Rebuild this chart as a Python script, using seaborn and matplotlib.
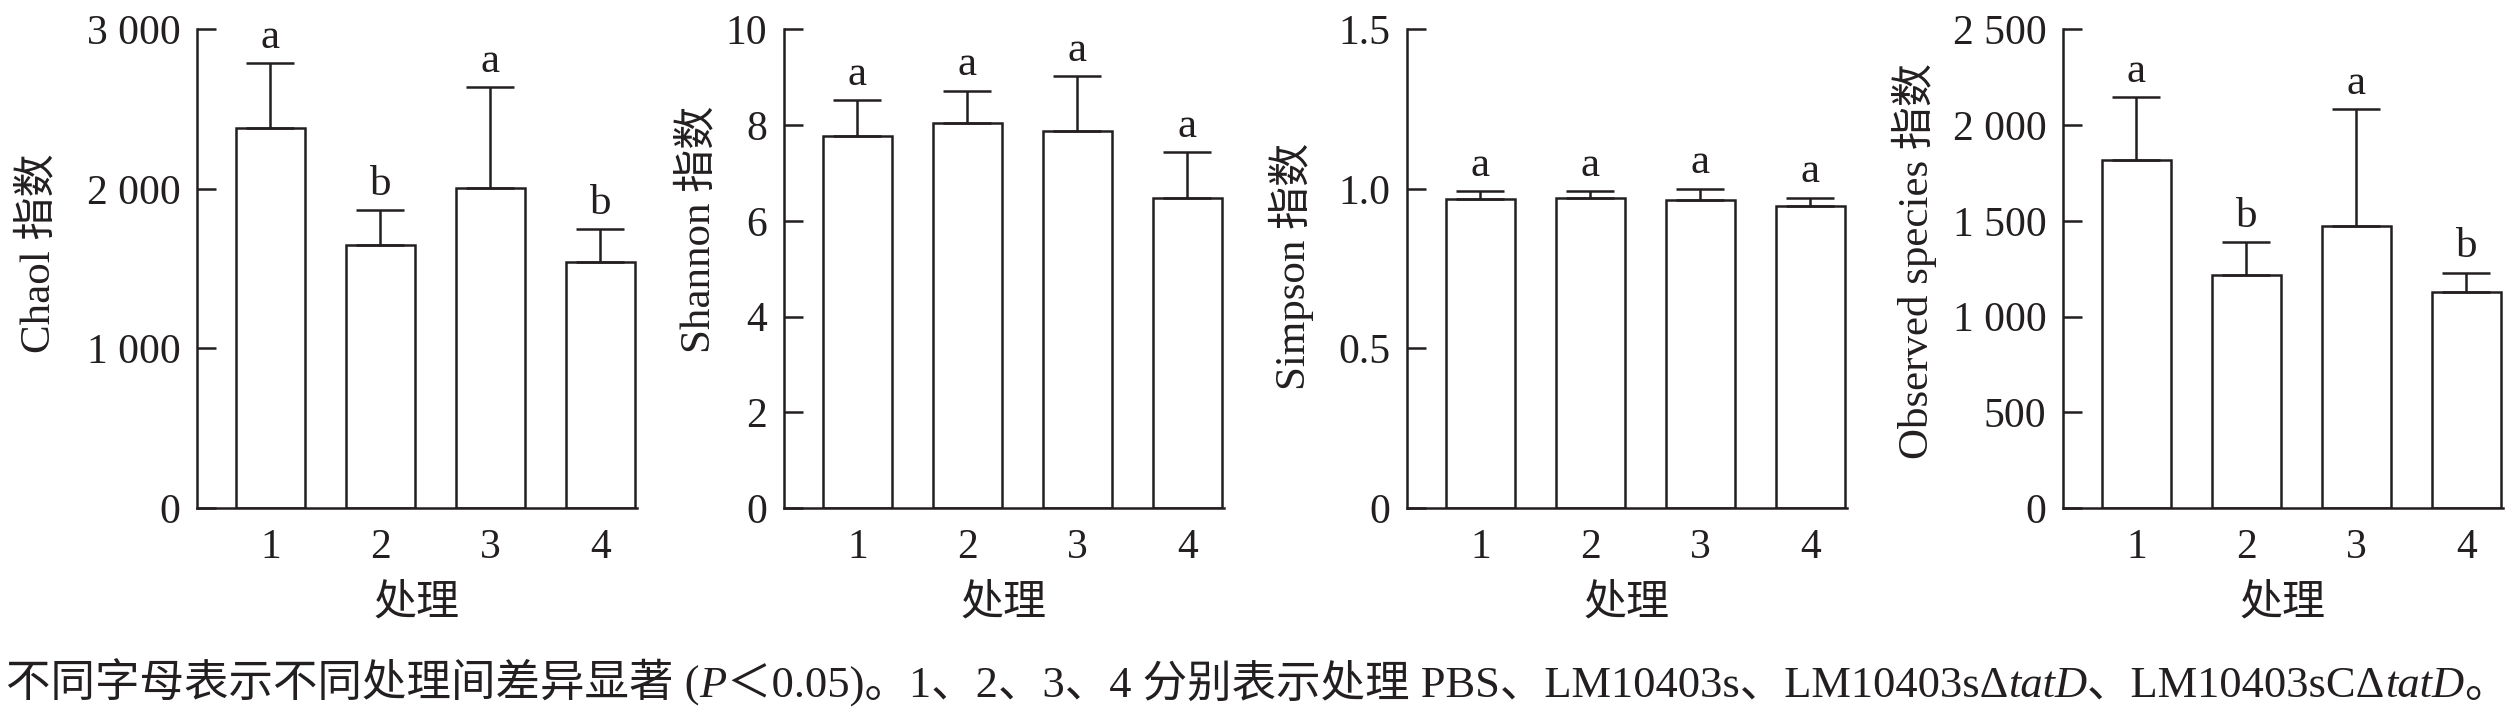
import numpy as np
import pandas as pd
import matplotlib
matplotlib.use("Agg")
import matplotlib.pyplot as plt
import seaborn as sns

# ---------------- data ----------------
treatments = ["1", "2", "3", "4"]

chao1_mean = [2380, 1648, 2005, 1543]
chao1_err = [410, 217, 632, 204]
chao1_sig = ["a", "b", "a", "b"]
chao1_ticks = [0, 1000, 2000, 3000]
chao1_ticklabels = ["0", "1 000", "2 000", "3 000"]

shannon_mean = [7.77, 8.04, 7.88, 6.47]
shannon_err = [0.75, 0.68, 1.15, 0.96]
shannon_sig = ["a", "a", "a", "a"]
shannon_ticks = [0, 2, 4, 6, 8, 10]
shannon_ticklabels = ["0", "2", "4", "6", "8", "10"]

simpson_mean = [0.968, 0.973, 0.966, 0.945]
simpson_err = [0.025, 0.019, 0.035, 0.028]
simpson_sig = ["a", "a", "a", "a"]
simpson_ticks = [0, 0.5, 1.0, 1.5]
simpson_ticklabels = ["0", "0.5", "1.0", "1.5"]

observed_mean = [1820, 1218, 1474, 1130]
observed_err = [325, 171, 611, 99]
observed_sig = ["a", "b", "a", "b"]
observed_ticks = [0, 500, 1000, 1500, 2000, 2500]
observed_ticklabels = ["0", "500", "1 000", "1 500", "2 000", "2 500"]

ylabels = ["Chaol 指数", "Shannon 指数", "Simpson 指数", "Observed species 指数"]
xlabel = "处理"

caption_pieces = [
    ("不同字母表示不同处理间差异显著 (", "normal"),
    ("P", "italic"),
    ("＜0.05)。1、2、3、4 分别表示处理 PBS、LM10403s、LM10403sΔ", "normal"),
    ("tatD", "italic"),
    ("、LM10403sCΔ", "normal"),
    ("tatD", "italic"),
    ("。", "normal"),
]

# ---------------- style ----------------
sns.set_style("ticks")
plt.rcParams["font.family"] = ["Liberation Serif", "Noto Sans CJK SC"]
plt.rcParams["axes.unicode_minus"] = False

INK = "#231f20"
LW = 1.8

W, H = 2520, 716
fig = plt.figure(figsize=(W / 100, H / 100), dpi=100)
fig.patch.set_facecolor("white")

panels = [
    (chao1_mean, chao1_err, chao1_sig, chao1_ticks, chao1_ticklabels),
    (shannon_mean, shannon_err, shannon_sig, shannon_ticks, shannon_ticklabels),
    (simpson_mean, simpson_err, simpson_sig, simpson_ticks, simpson_ticklabels),
    (observed_mean, observed_err, observed_sig, observed_ticks, observed_ticklabels),
]

lefts_px = [197, 784, 1407, 2063]
ylabel_x = [-0.315, -0.150, -0.212, -0.287]
ylabel_y = [0.533, 0.583, 0.505, 0.515]
ax_w_px = 440
top_px, bottom_px = 29.4, 508

for i, (mean, err, sig, ticks, tlabels) in enumerate(panels):
    ax = fig.add_axes([lefts_px[i] / W, (H - bottom_px) / H,
                       ax_w_px / W, (bottom_px - top_px) / H])
    df = pd.DataFrame({"trt": treatments, "val": mean})
    sns.barplot(data=df, x="trt", y="val", ax=ax, color="white",
                saturation=1, edgecolor=INK, linewidth=LW, width=0.63,
                errorbar=None, zorder=2)
    xs = [p.get_x() + p.get_width() / 2 for p in ax.patches]
    ax.errorbar(xs, mean, yerr=[np.zeros(len(err)), err], fmt="none",
                ecolor=INK, elinewidth=LW, capsize=17.6, capthick=LW, zorder=3)
    for x, m, e, s in zip(xs, mean, err, sig):
        ax.annotate(s, (x, m + e), xytext=(0, 11), textcoords="offset points",
                    ha="center", va="baseline", fontsize=31, color=INK)

    ax.set_xlim(-0.668, 3.332)
    ax.set_ylim(0, ticks[-1])
    ax.set_yticks(ticks)
    ax.set_yticklabels(tlabels)
    for sp in ["top", "right"]:
        ax.spines[sp].set_visible(False)
    for sp in ["left", "bottom"]:
        ax.spines[sp].set_color(INK)
        ax.spines[sp].set_linewidth(LW)
    ax.tick_params(axis="y", direction="in", length=13.7, width=LW, pad=12,
                   labelsize=30, colors=INK)
    ax.tick_params(axis="x", length=0, pad=15, labelsize=30, colors=INK)
    ax.set_xlabel(xlabel, fontsize=31, color=INK, labelpad=12)
    ax.set_ylabel(ylabels[i], fontsize=31, color=INK)
    ax.yaxis.set_label_coords(ylabel_x[i], ylabel_y[i])
    ax.set_facecolor("white")
    ax.grid(False)

# ---------------- caption ----------------
fig.canvas.draw()
renderer = fig.canvas.get_renderer()
x_px = 6
base_y = (H - 697) / H
for txt, style in caption_pieces:
    t = fig.text(x_px / W, base_y, txt, fontsize=32, style=style,
                 color=INK, ha="left", va="baseline")
    bb = t.get_window_extent(renderer)
    x_px = bb.x1

fig.savefig("out.png", dpi=100, facecolor="white")
